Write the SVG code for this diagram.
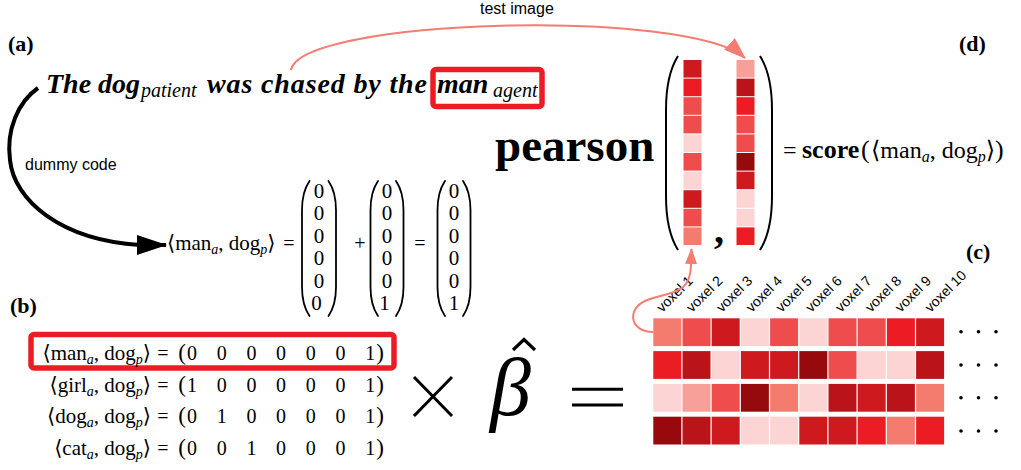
<svg xmlns="http://www.w3.org/2000/svg" width="1021" height="470" viewBox="0 0 1021 470">
<defs>
<style>
.m{font-family:"Liberation Serif","DejaVu Serif","DejaVu Sans",serif;fill:#000}
.m20{font-size:20px}
.m21{font-size:21px}
.m24{font-size:24px}
.sb{font-size:14px;font-style:italic}
.sb16{font-size:16px;font-style:italic}
.lbl{font-family:"Liberation Serif","DejaVu Serif",serif;font-weight:bold;font-size:22px}
.sans{font-family:"Liberation Sans",Arial,sans-serif;fill:#000}
.vx{font-family:"Liberation Sans",Arial,sans-serif;font-size:14px;fill:#000}
.paren{fill:none;stroke:#000;stroke-width:1.8;stroke-linecap:round}
.redbox{fill:none;stroke:#ED1C24;stroke-width:5.5}
.c1{fill:#FCD4D4}.c2{fill:#F7A099}.c3{fill:#F47C6E}.c4{fill:#EF4D4D}
.c5{fill:#EC1C24}.c6{fill:#CE1A1F}.c7{fill:#BA141A}.c8{fill:#960A0D}
.sal{fill:none;stroke:#F37D70;stroke-width:2}
</style>
<marker id="ahS" markerUnits="userSpaceOnUse" markerWidth="22" markerHeight="16" refX="21" refY="8" orient="auto">
<path d="M0,0 L22,8 L0,16 z" fill="#F37D70"/>
</marker>
<marker id="ahS2" markerUnits="userSpaceOnUse" markerWidth="16" markerHeight="12" refX="15" refY="6" orient="auto">
<path d="M0,0 L16,6 L0,12 z" fill="#F37D70"/>
</marker>
<marker id="ahB" markerUnits="userSpaceOnUse" markerWidth="30" markerHeight="20" refX="29" refY="10" orient="auto">
<path d="M0,0 L30,10 L0,20 z" fill="#000"/>
</marker>
</defs>
<rect width="1021" height="470" fill="#fff"/>

<g id="panel-labels">
<text class="lbl" x="8" y="51">(a)</text>
<text class="lbl" x="10" y="313">(b)</text>
<text class="lbl" x="966" y="259">(c)</text>
<text class="lbl" x="959" y="51">(d)</text>
</g>

<g id="sentence">
<text class="m" font-size="28" font-weight="bold" font-style="italic" y="93"><tspan x="46">The dog</tspan><tspan x="141" dy="4" font-weight="normal" font-size="20">patient</tspan><tspan x="207" dy="-4" textLength="220">was chased by the</tspan><tspan x="437">man</tspan><tspan x="493" dy="4" font-weight="normal" font-size="20">agent</tspan></text>
<rect class="redbox" x="433" y="69.5" width="109" height="37" rx="3"/>
</g>

<g id="test-image-label">
<text class="sans" font-size="16" x="480" y="14">test image</text>
</g>

<g id="dummy-label">
<text class="sans" font-size="16" x="25" y="170">dummy code</text>
</g>

<g id="dummy-eq">
<text class="m m21" x="167" y="250">⟨man<tspan class="sb" dy="4">a</tspan><tspan dy="-4">, dog</tspan><tspan class="sb" dy="4">p</tspan><tspan dy="-4">⟩</tspan></text>
<text class="m m20" x="289" y="250" text-anchor="middle">=</text>
<text class="m m20" x="360" y="250" text-anchor="middle">+</text>
<text class="m m20" x="420" y="250" text-anchor="middle">=</text>
<path class="paren" d="M309.5,181 Q302,192 302,210 L302,287 Q302,305 309.5,316"/>
<path class="paren" d="M328.5,181 Q336,192 336,210 L336,287 Q336,305 328.5,316"/>
<path class="paren" d="M378,181 Q370.5,192 370.5,210 L370.5,287 Q370.5,305 378,316"/>
<path class="paren" d="M396,181 Q403.5,192 403.5,210 L403.5,287 Q403.5,305 396,316"/>
<path class="paren" d="M445,181 Q437.5,192 437.5,210 L437.5,287 Q437.5,305 445,316"/>
<path class="paren" d="M463,181 Q470.5,192 470.5,210 L470.5,287 Q470.5,305 463,316"/>
<text class="m m21" text-anchor="middle">
<tspan x="319" y="198">0</tspan><tspan x="319" y="220.4">0</tspan><tspan x="319" y="242.8">0</tspan><tspan x="319" y="265.2">0</tspan><tspan x="319" y="287.6">0</tspan><tspan x="319" y="310">0</tspan>
<tspan x="387" y="198">0</tspan><tspan x="387" y="220.4">0</tspan><tspan x="387" y="242.8">0</tspan><tspan x="387" y="265.2">0</tspan><tspan x="387" y="287.6">0</tspan><tspan x="387" y="310">1</tspan>
<tspan x="454" y="198">0</tspan><tspan x="454" y="220.4">0</tspan><tspan x="454" y="242.8">0</tspan><tspan x="454" y="265.2">0</tspan><tspan x="454" y="287.6">0</tspan><tspan x="454" y="310">1</tspan>
</text>
</g>

<g id="pearson">
<text class="m" font-size="47" font-weight="bold" x="495" y="161">pearson</text>
<path d="M678,56 Q666,75 666,110 L666,196 Q666,231 678,250" fill="none" stroke="#000" stroke-width="2"/>
<path d="M760,56 Q772,75 772,110 L772,196 Q772,231 760,250" fill="none" stroke="#000" stroke-width="2"/>
<g id="col-left">
<rect class="c6" x="683.5" y="60" width="18" height="17.6"/>
<rect class="c5" x="683.5" y="78.6" width="18" height="17.6"/>
<rect class="c4" x="683.5" y="97.2" width="18" height="17.6"/>
<rect class="c4" x="683.5" y="115.8" width="18" height="17.6"/>
<rect class="c1" x="683.5" y="134.4" width="18" height="17.6"/>
<rect class="c4" x="683.5" y="153" width="18" height="17.6"/>
<rect class="c1" x="683.5" y="171.6" width="18" height="17.6"/>
<rect class="c6" x="683.5" y="190.2" width="18" height="17.6"/>
<rect class="c4" x="683.5" y="208.8" width="18" height="17.6"/>
<rect class="c3" x="683.5" y="227.4" width="18" height="17.6"/>
</g>
<g id="col-right">
<rect class="c2" x="736.5" y="60" width="18" height="17.6"/>
<rect class="c7" x="736.5" y="78.6" width="18" height="17.6"/>
<rect class="c5" x="736.5" y="97.2" width="18" height="17.6"/>
<rect class="c4" x="736.5" y="115.8" width="18" height="17.6"/>
<rect class="c4" x="736.5" y="134.4" width="18" height="17.6"/>
<rect class="c8" x="736.5" y="153" width="18" height="17.6"/>
<rect class="c6" x="736.5" y="171.6" width="18" height="17.6"/>
<rect class="c1" x="736.5" y="190.2" width="18" height="17.6"/>
<rect class="c1" x="736.5" y="208.8" width="18" height="17.6"/>
<rect class="c5" x="736.5" y="227.4" width="18" height="17.6"/>
</g>
<text class="m" font-size="40" font-weight="bold" x="714" y="243">,</text>
</g>

<g id="score">
<text class="m m24" y="158"><tspan x="783">=</tspan><tspan x="802" font-weight="bold" font-size="26">score</tspan><tspan x="861" font-size="26">(</tspan><tspan x="871">⟨man</tspan><tspan class="sb16" dy="4">a</tspan><tspan dy="-4">, dog</tspan><tspan class="sb16" dy="4">p</tspan><tspan dy="-4">⟩</tspan><tspan font-size="26">)</tspan></text>
</g>

<g id="heatmap">
<rect class="c3" x="653.3" y="318.3" width="28" height="27.8"/><rect class="c4" x="682.5" y="318.3" width="28" height="27.8"/><rect class="c6" x="711.7" y="318.3" width="28" height="27.8"/><rect class="c1" x="740.9" y="318.3" width="28" height="27.8"/><rect class="c4" x="770.1" y="318.3" width="28" height="27.8"/><rect class="c1" x="799.3" y="318.3" width="28" height="27.8"/><rect class="c4" x="828.5" y="318.3" width="28" height="27.8"/><rect class="c4" x="857.7" y="318.3" width="28" height="27.8"/><rect class="c5" x="886.9" y="318.3" width="28" height="27.8"/><rect class="c6" x="916.1" y="318.3" width="28" height="27.8"/>
<rect class="c5" x="653.3" y="351.1" width="28" height="27.8"/><rect class="c7" x="682.5" y="351.1" width="28" height="27.8"/><rect class="c1" x="711.7" y="351.1" width="28" height="27.8"/><rect class="c6" x="740.9" y="351.1" width="28" height="27.8"/><rect class="c6" x="770.1" y="351.1" width="28" height="27.8"/><rect class="c8" x="799.3" y="351.1" width="28" height="27.8"/><rect class="c4" x="828.5" y="351.1" width="28" height="27.8"/><rect class="c1" x="857.7" y="351.1" width="28" height="27.8"/><rect class="c1" x="886.9" y="351.1" width="28" height="27.8"/><rect class="c7" x="916.1" y="351.1" width="28" height="27.8"/>
<rect class="c1" x="653.3" y="383.9" width="28" height="27.8"/><rect class="c2" x="682.5" y="383.9" width="28" height="27.8"/><rect class="c4" x="711.7" y="383.9" width="28" height="27.8"/><rect class="c8" x="740.9" y="383.9" width="28" height="27.8"/><rect class="c3" x="770.1" y="383.9" width="28" height="27.8"/><rect class="c1" x="799.3" y="383.9" width="28" height="27.8"/><rect class="c7" x="828.5" y="383.9" width="28" height="27.8"/><rect class="c6" x="857.7" y="383.9" width="28" height="27.8"/><rect class="c7" x="886.9" y="383.9" width="28" height="27.8"/><rect class="c3" x="916.1" y="383.9" width="28" height="27.8"/>
<rect class="c8" x="653.3" y="416.7" width="28" height="27.8"/><rect class="c7" x="682.5" y="416.7" width="28" height="27.8"/><rect class="c6" x="711.7" y="416.7" width="28" height="27.8"/><rect class="c1" x="740.9" y="416.7" width="28" height="27.8"/><rect class="c1" x="770.1" y="416.7" width="28" height="27.8"/><rect class="c6" x="799.3" y="416.7" width="28" height="27.8"/><rect class="c6" x="828.5" y="416.7" width="28" height="27.8"/><rect class="c5" x="857.7" y="416.7" width="28" height="27.8"/><rect class="c3" x="886.9" y="416.7" width="28" height="27.8"/><rect class="c5" x="916.1" y="416.7" width="28" height="27.8"/>
<g id="voxel-labels">
<text class="vx" transform="translate(662.3,313) rotate(-45)">voxel 1</text>
<text class="vx" transform="translate(692.1,313) rotate(-45)">voxel 2</text>
<text class="vx" transform="translate(721.9,313) rotate(-45)">voxel 3</text>
<text class="vx" transform="translate(751.7,313) rotate(-45)">voxel 4</text>
<text class="vx" transform="translate(781.5,313) rotate(-45)">voxel 5</text>
<text class="vx" transform="translate(811.3,313) rotate(-45)">voxel 6</text>
<text class="vx" transform="translate(841.1,313) rotate(-45)">voxel 7</text>
<text class="vx" transform="translate(870.9,313) rotate(-45)">voxel 8</text>
<text class="vx" transform="translate(900.7,313) rotate(-45)">voxel 9</text>
<text class="vx" transform="translate(930.5,313) rotate(-45)">voxel 10</text>
</g>
<g id="dots" fill="#000">
<circle cx="961" cy="331.7" r="1.8"/><circle cx="978.5" cy="331.7" r="1.8"/><circle cx="996" cy="331.7" r="1.8"/>
<circle cx="961" cy="365" r="1.8"/><circle cx="978.5" cy="365" r="1.8"/><circle cx="996" cy="365" r="1.8"/>
<circle cx="961" cy="397.7" r="1.8"/><circle cx="978.5" cy="397.7" r="1.8"/><circle cx="996" cy="397.7" r="1.8"/>
<circle cx="961" cy="431" r="1.8"/><circle cx="978.5" cy="431" r="1.8"/><circle cx="996" cy="431" r="1.8"/>
</g>
</g>

<g id="design-matrix">
<rect class="redbox" x="31" y="334.5" width="363" height="33.5" rx="3"/>
<text class="m m21" x="151" y="360" text-anchor="end">⟨man<tspan class="sb" dy="4">a</tspan><tspan dy="-4">, dog</tspan><tspan class="sb" dy="4">p</tspan><tspan dy="-4">⟩</tspan></text>
<text class="m m21" x="151" y="391.7" text-anchor="end">⟨girl<tspan class="sb" dy="4">a</tspan><tspan dy="-4">, dog</tspan><tspan class="sb" dy="4">p</tspan><tspan dy="-4">⟩</tspan></text>
<text class="m m21" x="151" y="423.3" text-anchor="end">⟨dog<tspan class="sb" dy="4">a</tspan><tspan dy="-4">, dog</tspan><tspan class="sb" dy="4">p</tspan><tspan dy="-4">⟩</tspan></text>
<text class="m m21" x="151" y="455" text-anchor="end">⟨cat<tspan class="sb" dy="4">a</tspan><tspan dy="-4">, dog</tspan><tspan class="sb" dy="4">p</tspan><tspan dy="-4">⟩</tspan></text>
<text class="m m20" text-anchor="middle">
<tspan x="163" y="360">=</tspan><tspan x="182" font-size="23">(</tspan><tspan x="192">0</tspan><tspan x="221.7">0</tspan><tspan x="251.4">0</tspan><tspan x="281.1">0</tspan><tspan x="310.8">0</tspan><tspan x="340.5">0</tspan><tspan x="370.2">1</tspan><tspan x="380" font-size="23">)</tspan>
</text>
<text class="m m20" text-anchor="middle">
<tspan x="163" y="391.7">=</tspan><tspan x="182" font-size="23">(</tspan><tspan x="192">1</tspan><tspan x="221.7">0</tspan><tspan x="251.4">0</tspan><tspan x="281.1">0</tspan><tspan x="310.8">0</tspan><tspan x="340.5">0</tspan><tspan x="370.2">1</tspan><tspan x="380" font-size="23">)</tspan>
</text>
<text class="m m20" text-anchor="middle">
<tspan x="163" y="423.3">=</tspan><tspan x="182" font-size="23">(</tspan><tspan x="192">0</tspan><tspan x="221.7">1</tspan><tspan x="251.4">0</tspan><tspan x="281.1">0</tspan><tspan x="310.8">0</tspan><tspan x="340.5">0</tspan><tspan x="370.2">1</tspan><tspan x="380" font-size="23">)</tspan>
</text>
<text class="m m20" text-anchor="middle">
<tspan x="163" y="455">=</tspan><tspan x="182" font-size="23">(</tspan><tspan x="192">0</tspan><tspan x="221.7">0</tspan><tspan x="251.4">1</tspan><tspan x="281.1">0</tspan><tspan x="310.8">0</tspan><tspan x="340.5">0</tspan><tspan x="370.2">1</tspan><tspan x="380" font-size="23">)</tspan>
</text>
</g>

<g id="times">
<path d="M414,377 L452,416 M414,416 L452,377" stroke="#000" stroke-width="3" fill="none"/>
</g>

<g id="beta-hat">
<text class="m" font-size="82" font-style="italic" x="490" y="415">β</text>
<path d="M513,350 L524,339.5 L535,350" fill="none" stroke="#000" stroke-width="3.2"/>
</g>

<g id="equals">
<path d="M572,389.3 L623,389.3 M572,405 L623,405" stroke="#000" stroke-width="3" fill="none"/>
</g>

<g id="connectors">
<path class="sal" d="M291,70 C300,18 690,8 745,58" marker-end="url(#ahS)"/>
<path class="sal" d="M653.5,332 C628,332 626,306 650,299 C676,291 690,292 691,266 L691.5,249" marker-end="url(#ahS2)"/>
<path d="M38,88 C18,102 6,130 10,160 C14,200 60,240 140,245 L166,245" fill="none" stroke="#000" stroke-width="4" marker-end="url(#ahB)"/>
</g>
</svg>
